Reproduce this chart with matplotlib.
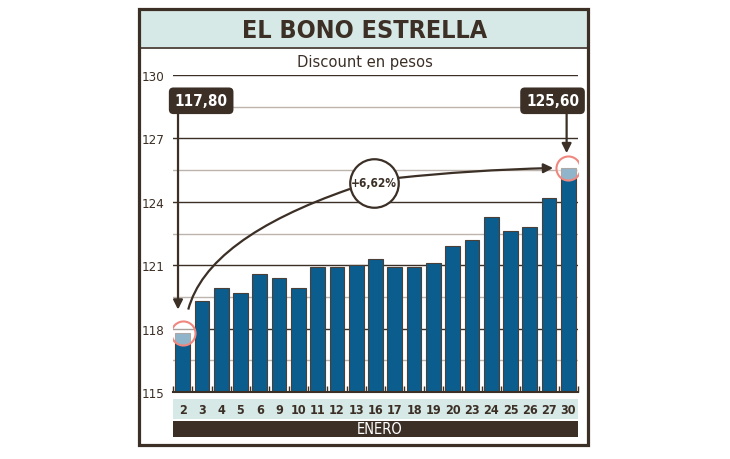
import numpy as np
import matplotlib
matplotlib.use('Agg')
import matplotlib.pyplot as plt
from matplotlib.patches import Rectangle, FancyArrowPatch, PathPatch
from matplotlib.path import Path

# datos: precio del Discount en pesos, enero
dias = ['2', '3', '4', '5', '6', '9', '10', '11', '12', '13', '16',
        '17', '18', '19', '20', '23', '24', '25', '26', '27', '30']
precios = [117.8, 119.3, 119.9, 119.7, 120.6, 120.4, 119.9, 120.9, 120.9, 121.0, 121.3,
           120.9, 120.9, 121.1, 121.9, 122.2, 123.3, 122.6, 122.8, 124.2, 125.6]
y_ticks = [115, 118, 121, 124, 127, 130]
y_minor = [116.5, 119.5, 122.5, 125.5, 128.5]
etiqueta_ini = '117,80'
etiqueta_fin = '125,60'
variacion = '+6,62%'
mes = 'ENERO'

marron = '#3b2f26'
azul = '#0b5d8e'
celeste = '#d7e9e6'
gris = '#bdb5ad'

plt.rcParams['font.family'] = ['DejaVu Sans']
plt.rcParams['font.stretch'] = 'condensed'

W, H = 730, 460
fig = plt.figure(figsize=(7.3, 4.6), dpi=100)


def fx(px):
    return px / W


def fy(py):
    return 1 - py / H


# marco y franja del titulo
fig.add_artist(Rectangle((fx(140), fy(48)), fx(587) - fx(140), (48 - 11) / H,
                         transform=fig.transFigure, facecolor=celeste, edgecolor='none'))
fig.add_artist(plt.Line2D([fx(140), fx(587)], [fy(48.5), fy(48.5)],
                          transform=fig.transFigure, color=marron, lw=1.2))
fig.add_artist(Rectangle((fx(139), fy(446)), fx(588) - fx(139), (446 - 10) / H,
                         transform=fig.transFigure, facecolor='none', edgecolor=marron, lw=2.3))

fig.text(fx(365), fy(31), 'EL BONO ESTRELLA', ha='center', va='center',
         fontsize=18, fontweight='bold', color=marron)
fig.text(fx(365), fy(62), 'Discount en pesos', ha='center', va='center',
         fontsize=11.8, color=marron)

# grafico de barras
ax = fig.add_axes([fx(173), fy(393), fx(578) - fx(173), (393 - 76) / H])
x = np.arange(len(dias))
for v in y_minor:
    ax.axhline(v, color=gris, lw=1, zorder=1)
for v in y_ticks[1:]:
    ax.axhline(v, color=marron, lw=1, zorder=1)
ax.bar(x, np.array(precios) - 115, bottom=115, width=0.76, color=azul,
       edgecolor='#4a4038', linewidth=0.8, zorder=2)
ax.set_xlim(-0.5, len(dias) - 0.5)
ax.set_ylim(115, 130)
ax.set_yticks(y_ticks)
ax.set_yticklabels([str(v) for v in y_ticks], fontsize=9.5, color=marron)
ax.tick_params(axis='y', length=0, pad=6)
ax.set_xticks(x)
ax.set_xticklabels([])
ax.tick_params(axis='x', which='major', length=0)
ax.set_xticks(np.arange(-0.5, len(dias), 1), minor=True)
ax.tick_params(axis='x', which='minor', direction='in', length=4, color=marron, width=1)
for s in ['top', 'left', 'right']:
    ax.spines[s].set_visible(False)
ax.spines['bottom'].set_color(marron)
ax.spines['bottom'].set_linewidth(1.5)
ax.patch.set_alpha(0)

# circulos en primer y ultimo valor
ax.scatter([x[0], x[-1]], [precios[0], precios[-1]], s=300, facecolor=(1, 1, 1, 0.55),
           edgecolor='#f0877f', linewidth=1.5, zorder=5)

# recuadros con valores y flechas verticales
caja = dict(boxstyle='round,pad=0.38,rounding_size=0.3', facecolor=marron, edgecolor='none')
ax.text(0.96, 128.78, etiqueta_ini, ha='center', va='center', fontsize=11,
        fontweight='bold', color='white', bbox=caja, zorder=6)
ax.text(19.18, 128.78, etiqueta_fin, ha='center', va='center', fontsize=11,
        fontweight='bold', color='white', bbox=caja, zorder=6)
for xa, y0, y1 in [(-0.24, 128.2, 118.9), (19.91, 128.2, 126.3)]:
    ax.add_patch(FancyArrowPatch((xa, y0), (xa, y1), arrowstyle='-|>', mutation_scale=14,
                                 color=marron, lw=1.6, shrinkA=0, shrinkB=0, zorder=6))

# curva de variacion
curva1 = Path([(0.29, 118.9), (1.27, 122.27), (8.68, 124.61)],
              [Path.MOVETO, Path.CURVE3, Path.CURVE3])
ax.add_patch(PathPatch(curva1, facecolor='none', edgecolor=marron, lw=1.6, zorder=6))
curva2 = Path([(11.16, 125.13), (14.9, 125.5), (19.21, 125.6)],
              [Path.MOVETO, Path.CURVE3, Path.CURVE3])
ax.add_patch(FancyArrowPatch(path=curva2, arrowstyle='-|>', mutation_scale=14,
                             color=marron, lw=1.6, zorder=6))
ax.scatter([9.9], [124.9], s=1220, facecolor='white', edgecolor=marron,
           linewidth=1.6, zorder=7)
ax.text(9.9, 124.9, variacion, ha='center', va='center', fontsize=8.6,
        fontweight='bold', color=marron, zorder=8)

# franja de dias
axd = fig.add_axes([fx(173), fy(420), fx(578) - fx(173), 20 / H])
axd.set_xlim(-0.5, len(dias) - 0.5)
axd.set_ylim(0, 1)
axd.axis('off')
axd.add_patch(Rectangle((-0.5, 0), len(dias), 1, facecolor=celeste, edgecolor='none'))
for xi, d in zip(x, dias):
    axd.text(xi, 0.45, d, ha='center', va='center', fontsize=9,
             fontweight='bold', color=marron)

fig.add_artist(Rectangle((fx(173), fy(438)), fx(578) - fx(173), 16.5 / H,
                         transform=fig.transFigure, facecolor=marron, edgecolor='none'))
fig.text(fx(380), fy(430), mes, ha='center', va='center', fontsize=10.5, color='white')

fig.savefig('out.png', dpi=100)
